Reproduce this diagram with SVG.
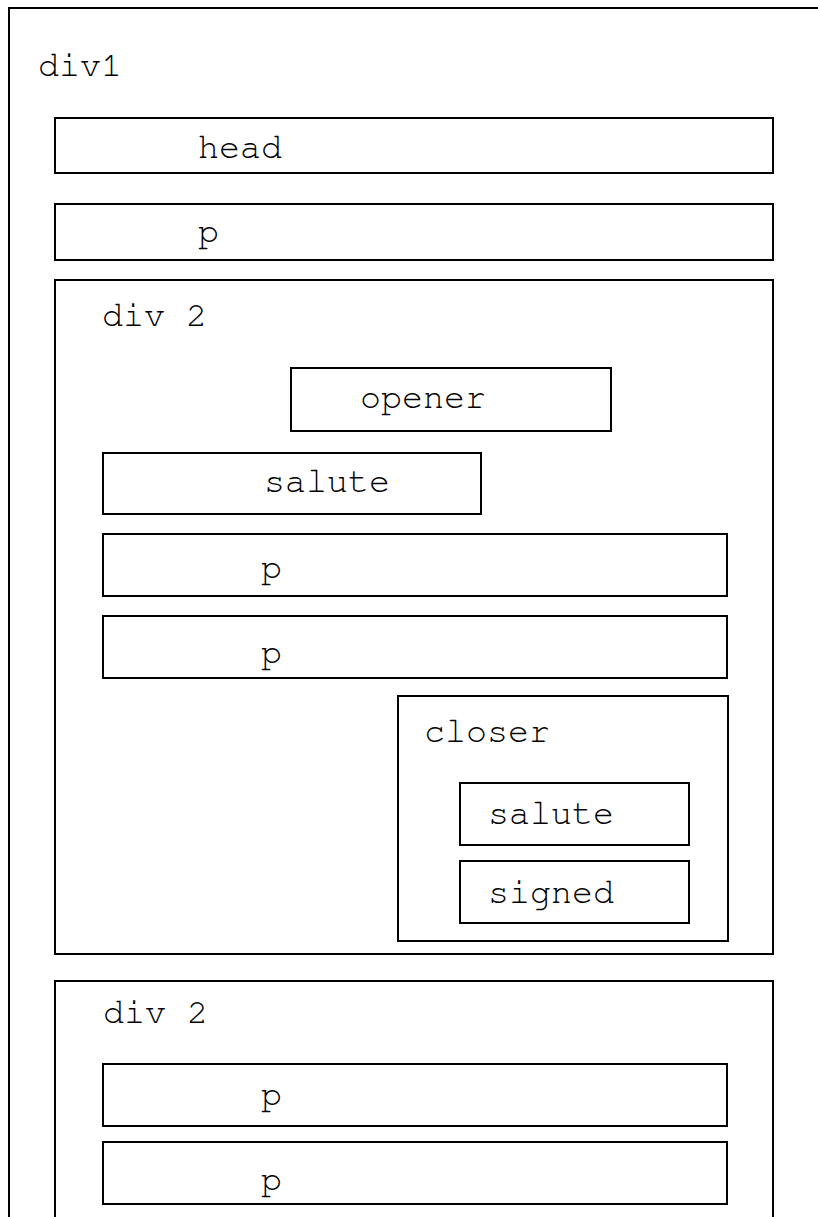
<svg xmlns="http://www.w3.org/2000/svg" width="818" height="1217" viewBox="0 0 818 1217">
<style>
rect{fill:none;stroke:#000;stroke-width:2}
text{font-family:"Nimbus Mono PS","FreeMono","Courier New","Liberation Mono",monospace;font-size:35px;fill:#000}
</style>
<rect x="0" y="0" width="818" height="1217" style="fill:#fff;stroke:none"/>
<g id="div1">
<rect x="9" y="8" width="900" height="1300"/>
<text x="38" y="76">div1</text>
</g>
<g id="head">
<rect x="55" y="118" width="718" height="55"/>
<text x="198" y="158">head</text>
</g>
<g id="p1">
<rect x="55" y="204" width="718" height="56"/>
<text x="198" y="242">p</text>
</g>
<g id="div2a">
<rect x="55" y="280" width="718" height="674"/>
<text x="102" y="326">div 2</text>
</g>
<g id="opener">
<rect x="291" y="368" width="320" height="63"/>
<text x="360" y="408">opener</text>
</g>
<g id="salute1">
<rect x="103" y="453" width="378" height="61"/>
<text x="264" y="492">salute</text>
</g>
<g id="p2">
<rect x="103" y="534" width="624" height="62"/>
<text x="261" y="578">p</text>
</g>
<g id="p3">
<rect x="103" y="616" width="624" height="62"/>
<text x="261" y="663">p</text>
</g>
<g id="closer">
<rect x="398" y="696" width="330" height="245"/>
<text x="424" y="742">closer</text>
</g>
<g id="salute2">
<rect x="460" y="783" width="229" height="62"/>
<text x="488" y="824">salute</text>
</g>
<g id="signed">
<rect x="460" y="861" width="229" height="62"/>
<text x="488" y="903">signed</text>
</g>
<g id="div2b">
<rect x="55" y="981" width="718" height="400"/>
<text x="103" y="1023">div 2</text>
</g>
<g id="p4">
<rect x="103" y="1064" width="624" height="62"/>
<text x="261" y="1105">p</text>
</g>
<g id="p5">
<rect x="103" y="1142" width="624" height="62"/>
<text x="261" y="1190">p</text>
</g>
<g id="connectors"/>
</svg>
